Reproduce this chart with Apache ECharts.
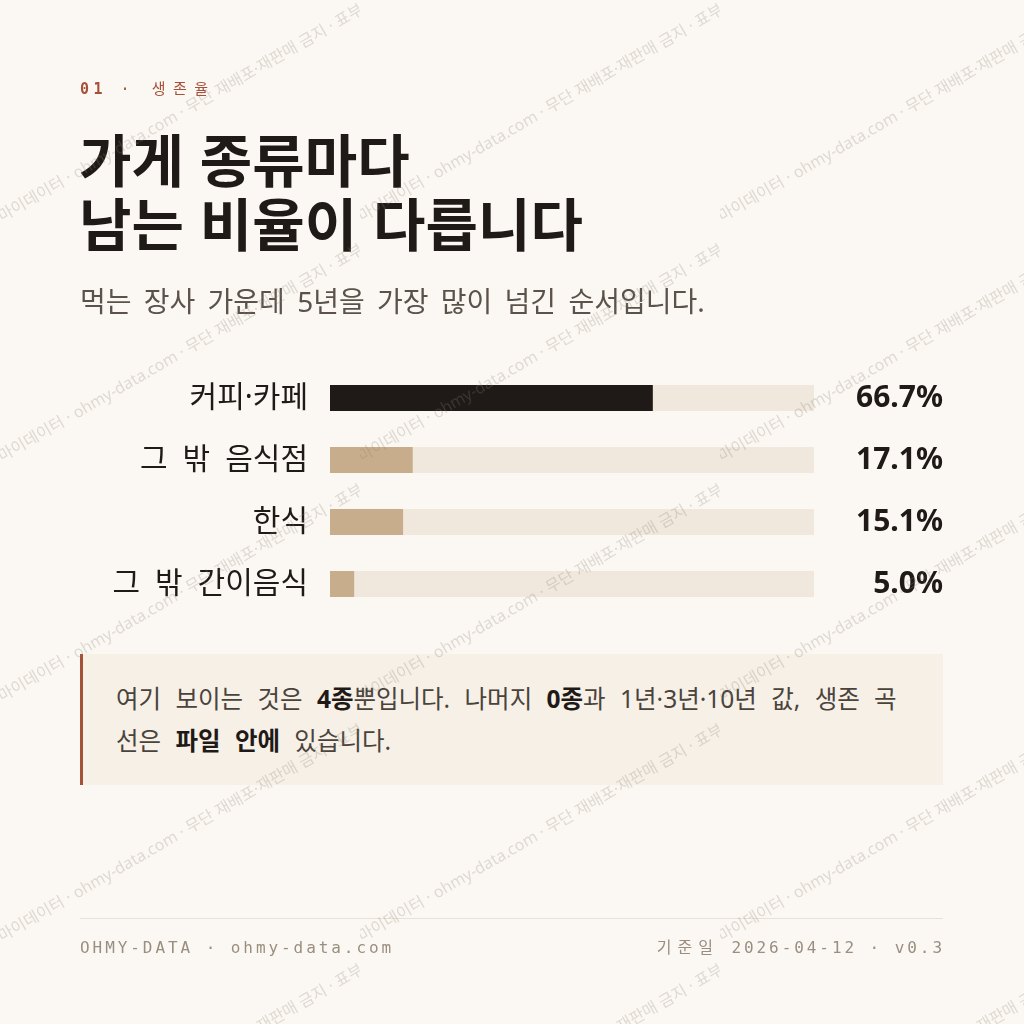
<!DOCTYPE html>
<html lang="ko">
<head>
<meta charset="utf-8">
<title>가게 종류마다 남는 비율이 다릅니다</title>
<script src="https://cdn.jsdelivr.net/npm/echarts@6/dist/echarts.min.js"></script>
<style>
  html, body { margin: 0; padding: 0; }
  body {
    width: 1024px; height: 1024px; position: relative; overflow: hidden;
    background: #FBF8F3;
    font-family: "Noto Sans", "Noto Sans CJK KR", sans-serif;
  }
  .abs { position: absolute; white-space: nowrap; }
  #kicker {
    left: 80px; top: 79px; font: 15px/20px "DejaVu Sans Mono", "Noto Sans CJK KR", monospace;
    letter-spacing: 4.5px; color: #A5513A;
  }
  #kicker b { font-weight: 700; }
  .ko { letter-spacing: 7.5px; }
  #kicker .ko { margin-left: 4px; }
  #title {
    left: 79px; top: 125px; font-size: 57px; line-height: 64px; font-weight: 700;
    color: #1F1A17; font-family: "Noto Sans CJK KR", sans-serif;
  }
  #subtitle {
    left: 80px; top: 282px; font-size: 28px; line-height: 38px; color: #5B534B;
    word-spacing: 5px;
  }
  #chart { position: absolute; left: 0; top: 0; width: 1024px; height: 1024px; }
  #note {
    left: 80px; top: 654px; width: 863px; height: 131px; padding-left: 33px;
    background: #F6F0E7; border-left: 3px solid #A5513A; box-sizing: border-box;
    font-size: 24.5px; line-height: 42px; color: #4A433C; padding-top: 24px;
    word-spacing: 8px;
  }
  #note b { color: #1F1A17; font-weight: 700; }
  #rule { left: 80px; top: 918px; width: 863px; height: 1px; background: #E8E1D6; }
  .foot {
    top: 937px; font: 16px/22px "DejaVu Sans Mono", "Noto Sans CJK KR", monospace;
    letter-spacing: 2.93px; color: #9A8E80;
  }
  .foot .ko { letter-spacing: 6px; }
  #footL { left: 80px; }
  #footR { right: 79px; }
  #mark {
    position: absolute; left: 0; top: 0; width: 1024px; height: 1024px; pointer-events: none;
  }
</style>
</head>
<body>
<div id="chart"></div>
<div id="kicker" class="abs"><b>01</b> · <span class="ko">생존율</span></div>
<div id="title" class="abs">가게 종류마다<br>남는 비율이 다릅니다</div>
<div id="subtitle" class="abs">먹는 장사 가운데 5년을 가장 많이 넘긴 순서입니다.</div>
<div id="note" class="abs">여기 보이는 것은 <b>4종</b>뿐입니다. 나머지 <b>0종</b>과 1년·3년·10년 값, 생존 곡<br>선은 <b>파일 안에</b> 있습니다.</div>
<div id="rule" class="abs"></div>
<div id="footL" class="abs foot">OHMY-DATA · ohmy-data.com</div>
<div id="footR" class="abs foot"><span class="ko">기준일</span> 2026-04-12 · v0.3</div>
<div id="mark"></div>
<script>
// 5년 생존율 (%)
const categories = ["커피·카페", "그 밖 음식점", "한식", "그 밖 간이음식"];
const survival5y = [66.7, 17.1, 15.1, 5.0];
const valueLabels = survival5y.map((v) => v.toFixed(1) + "%");

const chart = echarts.init(document.getElementById("chart"));

const option = {
  backgroundColor: "transparent",
  animation: false,
  grid: { left: 330, right: 210, top: 367, height: 248 },
  xAxis: { type: "value", min: 0, max: 100, show: false },
  yAxis: [
    {
      type: "category",
      inverse: true,
      data: categories,
      axisLine: { show: false },
      axisTick: { show: false },
      axisLabel: {
        margin: 22,
        fontSize: 30,
        color: "#1F1A17",
        fontFamily: "Noto Sans, Noto Sans CJK KR",
        // 단어 사이를 넓게 (en space)
        formatter: (s) => s.replace(/ /g, "\u2002"),
      },
    },
    {
      type: "category",
      inverse: true,
      position: "right",
      data: valueLabels,
      axisLine: { show: false },
      axisTick: { show: false },
      axisLabel: {
        margin: 129,
        align: "right",
        fontSize: 30,
        fontWeight: "bold",
        color: "#1F1A17",
        fontFamily: "Noto Sans",
      },
    },
  ],
  series: [
    {
      type: "bar",
      data: survival5y,
      barWidth: 26,
      showBackground: true,
      backgroundStyle: { color: "#F0E8DC" },
      itemStyle: {
        // 1위만 진하게
        color: (p) => (p.dataIndex === 0 ? "#1F1A17" : "#C8AD8C"),
      },
    },
  ],
};

chart.setOption(option);

// 워터마크 타일
const markText = "마이데이터 · ohmy-data.com · 무단 재배포·재판매 금지 · 표부";
const tile =
  '<svg xmlns="http://www.w3.org/2000/svg" width="360" height="240">' +
  '<text x="2" y="222" transform="rotate(-30 2 222)" font-family="Noto Sans, Noto Sans CJK KR" ' +
  'font-size="16" fill="#8A7E70" fill-opacity="0.26">' + markText + "</text></svg>";
document.getElementById("mark").style.backgroundImage =
  'url("data:image/svg+xml;charset=utf-8,' + encodeURIComponent(tile) + '")';

window.addEventListener("resize", () => chart.resize());
</script>
</body>
</html>
